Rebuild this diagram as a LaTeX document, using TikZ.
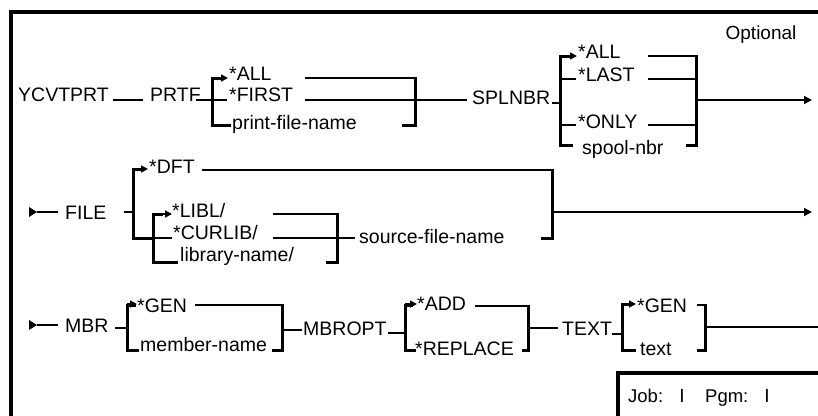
\documentclass[tikz,border=0pt]{standalone}
\usepackage{fontspec}
\setmainfont{Liberation Sans}
\usetikzlibrary{arrows.meta}
\begin{document}
\begin{tikzpicture}[x=1pt,y=-1pt,
  lbl/.style={anchor=base west, inner sep=0pt, font=\fontsize{19.5}{20}\selectfont},
  clbl/.style={anchor=base, inner sep=0pt, font=\fontsize{19}{20}\selectfont},
  rail/.style={line width=1.6pt},
  brk/.style={line width=3pt, line cap=rect},
  arr/.style={rail,-{Triangle[length=8pt,width=8pt]}},
  sarr/.style={rail,-{Triangle[length=7pt,width=7pt]}},
  frame/.style={line width=3.2pt},
  ]
\useasboundingbox (0,0) rectangle (818,415);
\clip (0,0) rectangle (818,415);
\fill[white] (0,0) rectangle (818,415);
% outer frame
\draw[frame] (11,430) -- (11,12) -- (830,12);
\node[clbl] (opt) at (761,39) {Optional};

% ---------- Row 1 ----------
\node[lbl] (ycv) at (18,101) {YCVTPRT};
\draw[rail] (113,100) -- (143,100);
\node[lbl] (prtf) at (150,101) {PRTF};
\draw[rail] (196,100) -- (212,100);
\draw[brk] (220,78) -- (212,78) -- (212,125) -- (229,125);
\draw[sarr] (212,78) -- (228,78);
\node[lbl] (all1) at (229,80) {*ALL};
\draw[rail] (212,100) -- (227,100);
\node[lbl] (first) at (229,101) {*FIRST};
\node[lbl] (pfn) at (232,129) {print-file-name};
\draw[rail] (305,78) -- (415,78);
\draw[rail] (305,100) -- (415,100);
\draw[brk] (403,125) -- (415,125) -- (415,78);
\draw[rail] (415,100) -- (467,100);
\node[lbl] (spl) at (472,104) {SPLNBR};
\draw[rail] (552,103) -- (560,103);
\draw[brk] (568,56) -- (560,56) -- (560,145) -- (571,145);
\draw[sarr] (560,56) -- (577,56);
\node[lbl] (all2) at (578,58) {*ALL};
\draw[rail] (560,79) -- (576,79);
\node[lbl] (last) at (578,81) {*LAST};
\draw[rail] (560,125) -- (576,125);
\node[lbl] (only) at (578,128) {*ONLY};
\node[lbl] (spool) at (582,154) {spool-nbr};
\draw[rail] (648,56) -- (696,56);
\draw[rail] (648,79) -- (696,79);
\draw[rail] (648,125) -- (696,125);
\draw[brk] (687,145) -- (696,145) -- (696,56);
\draw[arr] (696,100) -- (812,100);

% ---------- Row 2 ----------
\fill (29,207) -- (37,212) -- (29,217) -- cycle;
\draw[rail] (37,212) -- (58,212);
\node[lbl] (file) at (65,219) {FILE};
\draw[rail] (124,212) -- (133,212);
\draw[brk] (141,169) -- (133,169) -- (133,238) -- (153,238);
\draw[sarr] (133,169) -- (148,169);
\node[lbl] (dft) at (149,173) {*DFT};
\draw[rail] (202,170) -- (552,170);
\draw[brk] (542,238) -- (552,238) -- (552,170);
\draw[brk] (161,214) -- (153,214) -- (153,262) -- (176,262);
\draw[sarr] (153,214) -- (172,214);
\node[lbl] (libl) at (172,217) {*LIBL/};
\draw[rail] (153,238) -- (172,238);
\node[lbl] (curlib) at (173,239) {*CURLIB/};
\node[lbl] (libname) at (180,261) {library-name/};
\draw[rail] (273,214) -- (337,214);
\draw[rail] (273,238) -- (337,238);
\draw[brk] (327,262) -- (337,262) -- (337,214);
\draw[rail] (337,238) -- (355,238);
\node[lbl] (sfn) at (359,243) {source-file-name};
\draw[arr] (552,212) -- (812,212);

% ---------- Row 3 ----------
\fill (29,320) -- (37,325) -- (29,330) -- cycle;
\draw[rail] (37,325) -- (58,325);
\node[lbl] (mbr) at (65,332) {MBR};
\draw[rail] (115,328) -- (127,328);
\draw[brk] (134,305) -- (127,305) -- (127,350) -- (137,350);
\draw[sarr] (127,304) -- (137,304);
\node[lbl] (gen1) at (137,312) {*GEN};
\draw[rail] (195,305) -- (282,305);
\draw[brk] (273,350) -- (282,350) -- (282,305);
\node[lbl] (mname) at (140,351) {member-name};
\draw[rail] (282,330) -- (302,330);
\node[lbl] (mbropt) at (303,335) {MBROPT};
\draw[rail] (388,333) -- (405,333);
\draw[brk] (411,305) -- (405,305) -- (405,350) -- (414,350);
\draw[sarr] (405,304) -- (417,304);
\node[lbl] (add) at (417,310) {*ADD};
\draw[rail] (475,306) -- (528,306);
\draw[brk] (523,350) -- (528,350) -- (528,306);
\node[lbl] (repl) at (415,355) {*REPLACE};
\draw[rail] (528,328) -- (558,328);
\node[lbl] (text) at (562,335) {TEXT};
\draw[rail] (612,334) -- (622,334);
\draw[brk] (629,304) -- (622,304) -- (622,350) -- (634,350);
\draw[sarr] (622,304) -- (636,304);
\node[lbl] (gen2) at (637,312) {*GEN};
\draw[rail] (697,305) -- (705,305);
\draw[brk] (698,350) -- (705,350) -- (705,305);
\node[lbl] (txt) at (640,355) {text};
\draw[rail] (705,327) -- (818,327);

% ---------- Job box ----------
\draw[frame] (618,430) -- (618,373) -- (830,373);
\node[lbl, font=\fontsize{18.5}{20}\selectfont] (job) at (628,402) {Job:};
\node[clbl] (i1) at (682,402) {I};
\node[lbl, font=\fontsize{18.5}{20}\selectfont] (pgm) at (705,402) {Pgm:};
\node[clbl] (i2) at (767,402) {I};
\end{tikzpicture}
\end{document}
